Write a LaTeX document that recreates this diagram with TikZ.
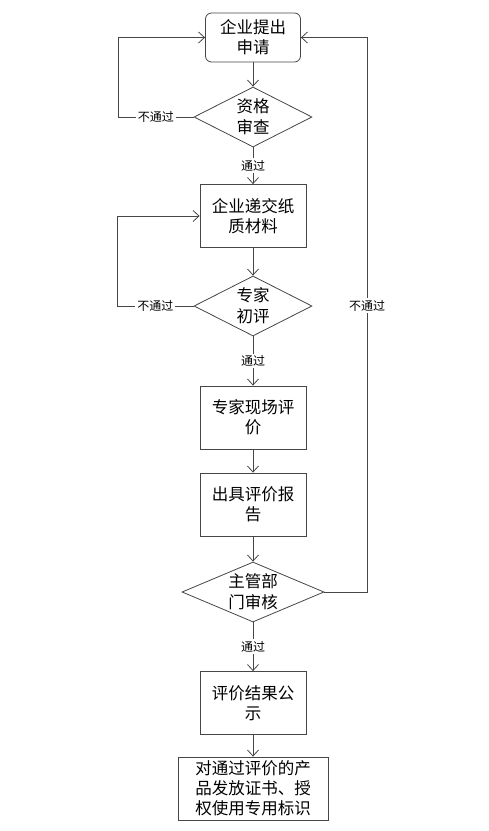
\documentclass[tikz,border=0pt]{standalone}
\usepackage{fontspec}
\setmainfont{Noto Sans CJK SC}
\usetikzlibrary{arrows.meta,shapes.geometric}
\definecolor{linecol}{RGB}{70,70,70}

\tikzset{
  startbox/.style={draw=linecol, rounded corners=6pt, minimum width=95pt, minimum height=49pt, align=center, font=\fontsize{16.5}{20}\selectfont},
  procbox/.style={draw=linecol, minimum width=106pt, minimum height=63pt, align=center, font=\fontsize{16.5}{20}\selectfont},
  decision/.style={draw=linecol, diamond, inner sep=0pt, minimum width=118pt, minimum height=60pt},
  arr/.style={draw=linecol, -{Straight Barb[length=6pt,width=11pt]}},
  lbl/.style={fill=white, inner sep=2pt, font=\fontsize{12}{14}\selectfont}
}

\begin{document}
\begin{tikzpicture}[x=1pt, y=-1pt, line width=0.8pt]
    \useasboundingbox (0,0) rectangle (489,831);

    % nodes
    \node[startbox] (apply) at (253,37.5) {企业提出\\申请};
    \node[decision, label={[align=center, font=\fontsize{16.5}{21}\selectfont]center:资格\\审查}] (qual) at (253,117) {};
    \node[procbox] (paper) at (253,216) {企业递交纸\\质材料};
    \node[decision, label={[align=center, font=\fontsize{16.5}{21}\selectfont]center:专家\\初评}] (first) at (253,306) {};
    \node[procbox] (site) at (253,417.5) {专家现场评\\价};
    \node[procbox] (report) at (253,504.5) {出具评价报\\告};
    \node[decision, minimum width=142pt, label={[align=center, font=\fontsize{16.5}{21}\selectfont]center:主管部\\门审核}] (dept) at (253,592) {};
    \node[procbox] (public) at (253,703) {评价结果公\\示};
    \node[procbox, minimum width=150pt] (cert) at (253,788.5) {对通过评价的产\\品发放证书、授\\权使用专用标识};

    \coordinate (loopa) at (118,117);
    \coordinate (loopb) at (117,306);
    \coordinate (loopc) at (367,592);

    % main flow
    \draw[arr] (apply) -- (qual);
    \draw[arr] (qual) -- node[lbl] {通过} (paper);
    \draw[arr] (paper) -- (first);
    \draw[arr] (first) -- node[lbl] {通过} (site);
    \draw[arr] (site) -- (report);
    \draw[arr] (report) -- (dept);
    \draw[arr] (dept) -- node[lbl] {通过} (public);
    \draw[arr] (public) -- (cert);

    % not passed
    \draw[arr] (qual.west) -- node[lbl] {不通过} (loopa) |- (apply.west);
    \draw[arr] (first.west) -- node[lbl] {不通过} (loopb) |- (paper.west);
    \draw[arr] (dept.east) -- (loopc) -- node[lbl, pos=0.516] {不通过} (loopc |- apply.east) -- (apply.east);
\end{tikzpicture}
\end{document}
